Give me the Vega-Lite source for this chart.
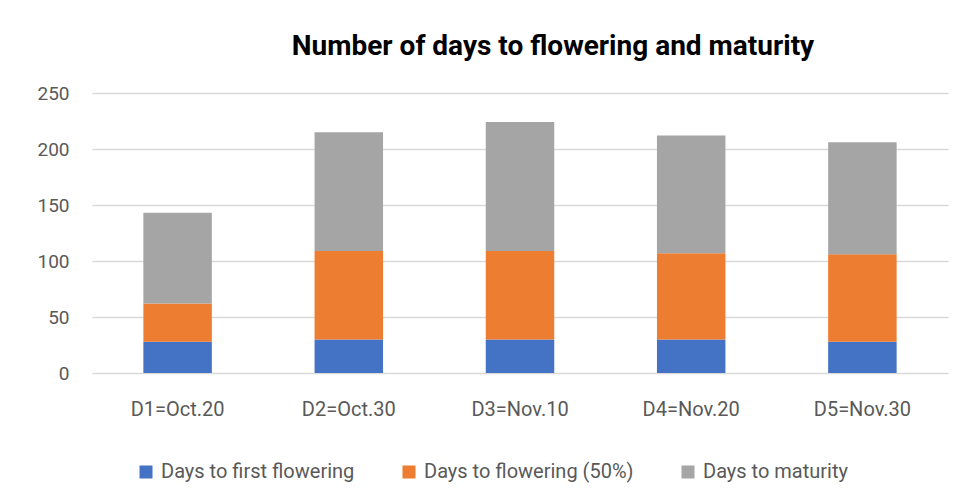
{
  "$schema": "https://vega.github.io/schema/vega-lite/v6.json",
  "width": 856,
  "height": 280,
  "autosize": {"type": "none"},
  "padding": {"left": 92, "top": 93, "right": 18, "bottom": 131},
  "background": "white",
  "title": {
    "text": "Number of days to flowering and maturity",
    "font": "Roboto",
    "fontSize": 28,
    "fontWeight": "bold",
    "color": "#000000",
    "anchor": "middle",
    "dx": 33,
    "offset": 23
  },
  "data": {
    "values": [
      {"date": "D1=Oct.20", "series": "Days to first flowering", "idx": 1, "days": 28},
      {"date": "D1=Oct.20", "series": "Days to flowering (50%)", "idx": 2, "days": 34},
      {"date": "D1=Oct.20", "series": "Days to maturity", "idx": 3, "days": 81},
      {"date": "D2=Oct.30", "series": "Days to first flowering", "idx": 1, "days": 30},
      {"date": "D2=Oct.30", "series": "Days to flowering (50%)", "idx": 2, "days": 79},
      {"date": "D2=Oct.30", "series": "Days to maturity", "idx": 3, "days": 106},
      {"date": "D3=Nov.10", "series": "Days to first flowering", "idx": 1, "days": 30},
      {"date": "D3=Nov.10", "series": "Days to flowering (50%)", "idx": 2, "days": 79},
      {"date": "D3=Nov.10", "series": "Days to maturity", "idx": 3, "days": 115},
      {"date": "D4=Nov.20", "series": "Days to first flowering", "idx": 1, "days": 30},
      {"date": "D4=Nov.20", "series": "Days to flowering (50%)", "idx": 2, "days": 77},
      {"date": "D4=Nov.20", "series": "Days to maturity", "idx": 3, "days": 105},
      {"date": "D5=Nov.30", "series": "Days to first flowering", "idx": 1, "days": 28},
      {"date": "D5=Nov.30", "series": "Days to flowering (50%)", "idx": 2, "days": 78},
      {"date": "D5=Nov.30", "series": "Days to maturity", "idx": 3, "days": 100}
    ]
  },
  "mark": {"type": "bar"},
  "encoding": {
    "x": {
      "field": "date",
      "type": "nominal",
      "sort": null,
      "scale": {"paddingInner": 0.6, "paddingOuter": 0.3},
      "axis": {
        "title": null,
        "labelAngle": 0,
        "domain": false,
        "ticks": false,
        "labelPadding": 26,
        "labelFontSize": 20,
        "labelColor": "#595959",
        "labelFont": "Roboto"
      }
    },
    "y": {
      "field": "days",
      "type": "quantitative",
      "stack": "zero",
      "scale": {"domain": [0, 250]},
      "axis": {
        "title": null,
        "values": [0, 50, 100, 150, 200, 250],
        "domain": false,
        "ticks": false,
        "labelPadding": 23,
        "labelFontSize": 19,
        "labelColor": "#595959",
        "labelFont": "Roboto",
        "gridColor": "#d9d9d9",
        "gridWidth": 1.3
      }
    },
    "color": {
      "field": "series",
      "type": "nominal",
      "sort": ["Days to first flowering", "Days to flowering (50%)", "Days to maturity"],
      "scale": {
        "domain": ["Days to first flowering", "Days to flowering (50%)", "Days to maturity"],
        "range": ["#4472C4", "#ED7D31", "#A5A5A5"]
      },
      "legend": {
        "title": null,
        "orient": "none",
        "direction": "horizontal",
        "columns": 3,
        "legendX": 44,
        "legendY": 369,
        "symbolType": "square",
        "symbolSize": 169,
        "symbolStrokeWidth": 0,
        "labelFontSize": 20,
        "labelColor": "#595959",
        "labelFont": "Roboto",
        "labelOffset": 5,
        "columnPadding": 44,
        "labelLimit": 400
      }
    },
    "order": {"field": "idx", "type": "quantitative", "sort": "ascending"}
  },
  "config": {
    "view": {"stroke": null}
  }
}
